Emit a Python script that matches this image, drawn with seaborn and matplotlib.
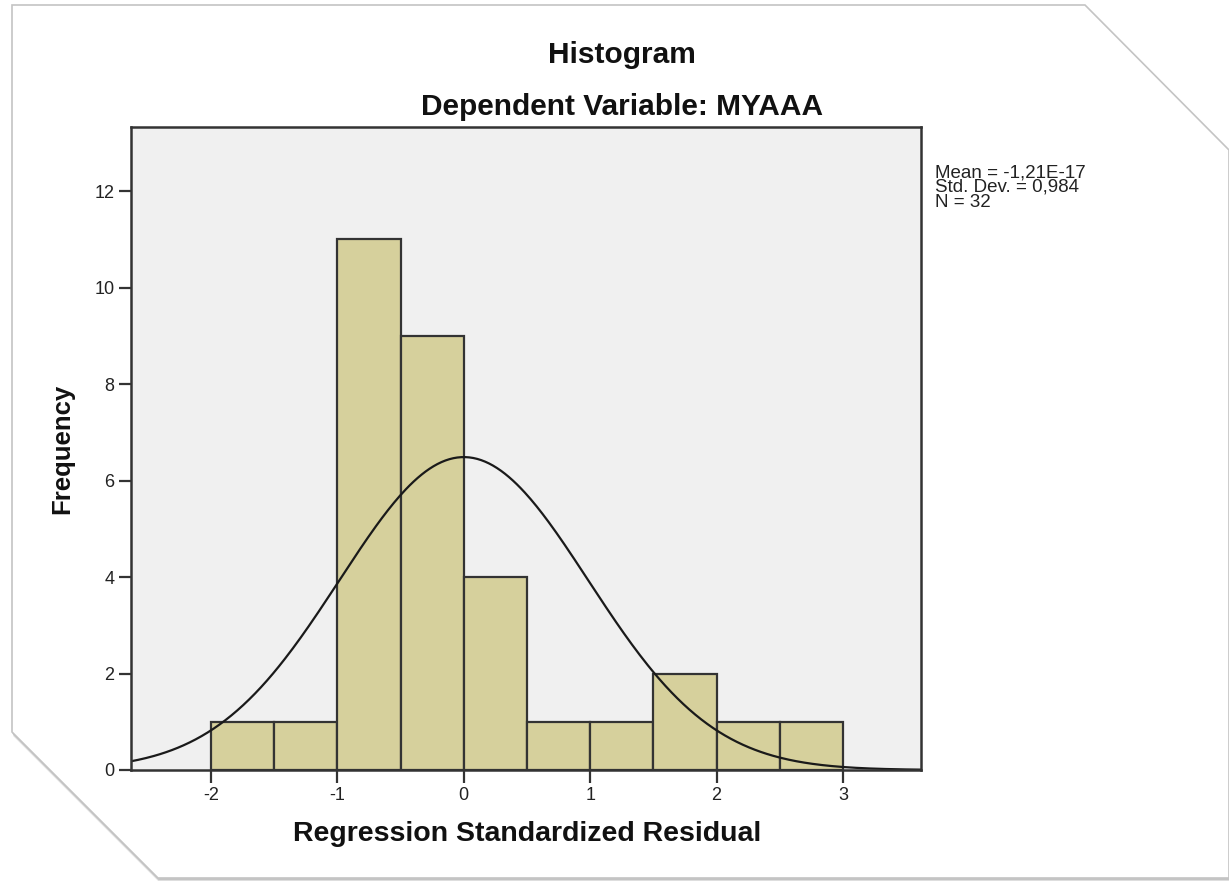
import numpy as np
import pandas as pd
import matplotlib
matplotlib.use("Agg")
import matplotlib.pyplot as plt
from matplotlib.patches import Polygon
import seaborn as sns

# ---- data ----
bin_edges = [-2.0, -1.5, -1.0, -0.5, 0.0, 0.5, 1.0, 1.5, 2.0, 2.5, 3.0]
counts = [1, 1, 11, 9, 4, 1, 1, 2, 1, 1]
mean_val = -1.21e-17
std_dev = 0.984
n_obs = 32
x_ticks = [-2, -1, 0, 1, 2, 3]
y_ticks = [0, 2, 4, 6, 8, 10, 12]
stats_lines = ["Mean = -1,21E-17", "Std. Dev. = 0,984", "N = 32"]

sns.set_style("white")
plt.rcParams['font.family'] = ['Liberation Sans', 'DejaVu Sans']

W, H = 1229, 881
fig = plt.figure(figsize=(W / 100, H / 100), dpi=100, facecolor="white")

# card background with cut corners and soft shadow
def fx(px):
    return px / W

def fy(py):
    return 1 - py / H

card = [(12, 5), (1085, 5), (1229, 150), (1229, 878), (158, 878), (12, 732)]
for off, col in [(4, "#dedede"), (2, "#c4c4c4")]:
    shadow = Polygon([(fx(x + off * 0.3), fy(y + off)) for x, y in card],
                     closed=True, transform=fig.transFigure,
                     facecolor=col, edgecolor="none", zorder=-3)
    fig.patches.append(shadow)
cardp = Polygon([(fx(x), fy(y)) for x, y in card], closed=True,
                transform=fig.transFigure, facecolor="white",
                edgecolor="#c4c4c4", linewidth=1.2, zorder=-2)
fig.patches.append(cardp)

ax = fig.add_axes([131 / W, 1 - 770 / H, (921 - 131) / W, (770 - 127) / H])
ax.set_zorder(2)
ax.set_facecolor("#f0f0f0")

centers = [(a + b) / 2 for a, b in zip(bin_edges[:-1], bin_edges[1:])]
df = pd.DataFrame({"resid": centers, "count": counts})
sns.histplot(data=df, x="resid", weights="count", bins=bin_edges, ax=ax,
             color="#d6d09c", alpha=1.0, edgecolor="#333333", linewidth=1.6)

# fitted normal curve
binw = bin_edges[1] - bin_edges[0]
xs = np.linspace(-2.64, 3.62, 400)
ys = n_obs * binw / (std_dev * np.sqrt(2 * np.pi)) * np.exp(-0.5 * ((xs - mean_val) / std_dev) ** 2)
sns.lineplot(x=xs, y=ys, ax=ax, color="#1a1a1a", linewidth=1.6)

ax.set_xlim(-2.633, 3.617)
ax.set_ylim(0, 13.33)
ax.set_xticks(x_ticks)
ax.set_yticks(y_ticks)
ax.set_xticklabels([str(t) for t in x_ticks])
ax.set_yticklabels([str(t) for t in y_ticks])
ax.tick_params(axis="both", direction="out", length=9, width=1.6,
               color="#333333", labelsize=13, labelcolor="#222222", pad=3,
               bottom=True, left=True)
for s in ax.spines.values():
    s.set_color("#333333")
    s.set_linewidth(1.8)
    s.set_visible(True)

ax.set_xlabel("Regression Standardized Residual", fontsize=20.5, fontweight="bold",
              color="#111111")
ax.set_ylabel("Frequency", fontsize=18.5, fontweight="bold", color="#111111")
ax.xaxis.label.set_va("center")
ax.yaxis.label.set_va("center")
ax.xaxis.set_label_coords((527 - 131) / 790, (770 - 834) / 643)
ax.yaxis.set_label_coords((62 - 131) / 790, 0.5)

fig.text(622 / W, 1 - 55 / H, "Histogram", ha="center", va="center",
         fontsize=21.5, fontweight="bold", color="#111111")
fig.text(622 / W, 1 - 107 / H, "Dependent Variable: MYAAA", ha="center",
         va="center", fontsize=21.5, fontweight="bold", color="#111111")

fig.text(935 / W, 1 - 164 / H, "\n".join(stats_lines), ha="left",
         va="top", fontsize=13.5, linespacing=0.83, color="#222222")

fig.savefig("out.png", dpi=100, facecolor="white")
